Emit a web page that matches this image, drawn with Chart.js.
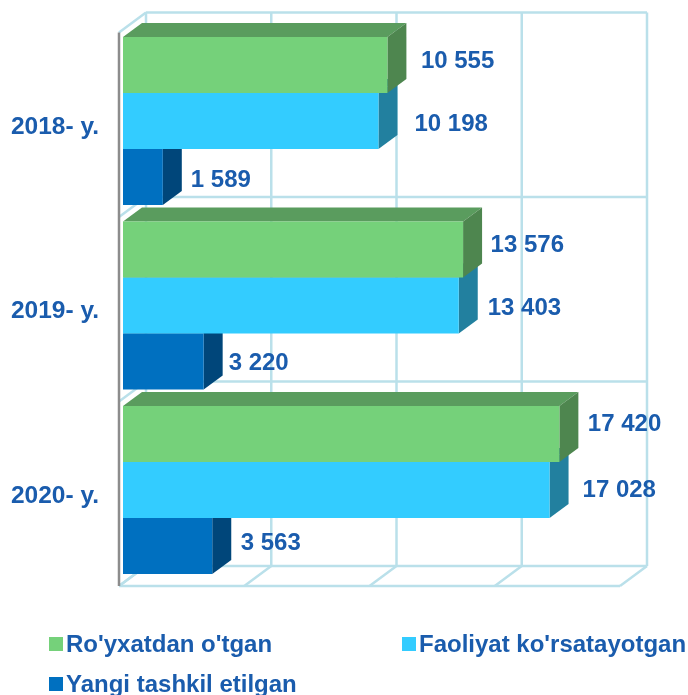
<!DOCTYPE html>
<html>
<head>
<meta charset="utf-8">
<style>html,body{margin:0;padding:0;background:#fff}canvas{display:block}</style>
<script src="https://cdn.jsdelivr.net/npm/chart.js@4"></script>
</head>
<body>
<canvas id="c" width="688" height="695"></canvas>
<script>
const categories = ["2018- y.", "2019- y.", "2020- y."];
const seriesNames = ["Ro'yxatdan o'tgan", "Faoliyat ko'rsatayotgan", "Yangi tashkil etilgan"];
const registered = [10555, 13576, 17420];
const active = [10198, 13403, 17028];
const newlyFormed = [1589, 3220, 3563];

const frontColors = ["#75D17A", "#33CCFF", "#0070C0"];
const topColors = ["#5A9C5E", "#1F7F9F", "#00467A"];
const sideColors = ["#4E864F", "#22809F", "#00467A"];
const labelShift = [
  [[33.5,-4],[27.5,-4],[28.5,-10]],
  [[36,3],[29,3],[33,0]],
  [[28,3],[25,2],[28.5,-3]]
];
const FONT = 'bold 24px "Liberation Sans", Arial, sans-serif';
const TEXT = "#1A5CAD", GRID = "#BAE0EA", AXIS = "#8C8C8C";
const BAR_D = [19, 14], WALL_D = [27, 20], WALL_IN = 4, WALL_DOWN = 3.75;

function poly(ctx, pts, fill) {
  ctx.beginPath();
  pts.forEach((p, i) => i ? ctx.lineTo(p[0], p[1]) : ctx.moveTo(p[0], p[1]));
  ctx.closePath();
  ctx.fillStyle = fill;
  ctx.fill();
}
function seg(ctx, a, b, c, w) {
  ctx.beginPath();
  ctx.moveTo(a[0], a[1]);
  ctx.lineTo(b[0], b[1]);
  ctx.strokeStyle = c;
  ctx.lineWidth = w;
  ctx.stroke();
}

const box3d = {
  id: "box3d",
  beforeDatasetsDraw(chart) {
    const ctx = chart.ctx, xs = chart.scales.x, ys = chart.scales.y;
    const fx = v => v - WALL_IN, bx = v => v - WALL_IN + WALL_D[0];
    const fy = v => v + WALL_DOWN, by = v => v + WALL_DOWN - WALL_D[1];
    ctx.save();
    const tops = [ys.top];
    categories.forEach((c, i) => tops.push(ys.getPixelForValue(i + 0.5)));
    const L = xs.left, R = xs.right, B = ys.bottom;
    tops.forEach(t => {
      seg(ctx, [bx(L), by(t)], [bx(R), by(t)], GRID, 2.5);
      seg(ctx, [fx(L), fy(t)], [bx(L), by(t)], GRID, 2.5);
    });
    xs.ticks.forEach(t => {
      const p = xs.getPixelForValue(t.value);
      seg(ctx, [bx(p), by(ys.top)], [bx(p), by(B)], GRID, 2.5);
      seg(ctx, [fx(p), fy(B)], [bx(p), by(B)], GRID, 2.5);
    });
    seg(ctx, [fx(L), fy(B)], [fx(R), fy(B)], GRID, 2.5);
    seg(ctx, [fx(L), fy(ys.top)], [fx(L), fy(B)], AXIS, 2.5);

    [2, 1, 0].forEach(d => {
      chart.getDatasetMeta(d).data.forEach(b => {
        const t = b.y - b.height / 2, u = b.y + b.height / 2, l = b.base, r = b.x;
        const [dx, dy] = BAR_D;
        poly(ctx, [[l, t], [l + dx, t - dy], [r + dx, t - dy], [r, t]], topColors[d]);
        poly(ctx, [[r, t], [r + dx, t - dy], [r + dx, u - dy], [r, u]], sideColors[d]);
      });
    });
    ctx.restore();
  },
  afterDatasetsDraw(chart) {
    const ctx = chart.ctx;
    ctx.save();
    ctx.font = FONT;
    ctx.fillStyle = TEXT;
    ctx.textAlign = "left";
    ctx.textBaseline = "middle";
    chart.data.datasets.forEach((ds, d) => {
      chart.getDatasetMeta(d).data.forEach((b, i) => {
        const s = String(ds.data[i]).replace(/\B(?=(\d{3})+$)/g, " ");
        ctx.fillText(s, b.x + labelShift[d][i][0], b.y + labelShift[d][i][1]);
      });
    });
    const spots = [[49, 644], [402, 644], [49, 684]];
    chart.data.datasets.forEach((ds, d) => {
      const [x, y] = spots[d];
      ctx.fillStyle = frontColors[d];
      ctx.fillRect(x, y - 7, 14, 14);
      ctx.fillStyle = TEXT;
      ctx.fillText(ds.label, x + 17, y + 1);
    });
    ctx.restore();
  }
};

new Chart(document.getElementById("c"), {
  type: "bar",
  data: {
    labels: categories,
    datasets: [
      { label: seriesNames[0], data: registered, backgroundColor: frontColors[0] },
      { label: seriesNames[1], data: active, backgroundColor: frontColors[1] },
      { label: seriesNames[2], data: newlyFormed, backgroundColor: frontColors[2] }
    ]
  },
  options: {
    indexAxis: "y",
    responsive: false,
    animation: false,
    barPercentage: 1,
    categoryPercentage: 0.91,
    layout: { padding: { top: 28.75, bottom: 104.75, right: 64, left: 0 } },
    plugins: { legend: { display: false }, tooltip: { enabled: false } },
    scales: {
      x: {
        min: 0, max: 20000,
        ticks: { stepSize: 5000, display: false },
        grid: { display: false },
        border: { display: false }
      },
      y: {
        afterFit(s) { s.width = 123; s.paddingTop = 0; s.paddingBottom = 0; },
        grid: { display: false, drawTicks: false },
        border: { display: false },
        ticks: {
          color: TEXT,
          padding: 24,
          labelOffset: 6,
          font: { family: '"Liberation Sans", Arial, sans-serif', size: 24.5, weight: "bold" }
        }
      }
    }
  },
  plugins: [box3d]
});
</script>
</body>
</html>
